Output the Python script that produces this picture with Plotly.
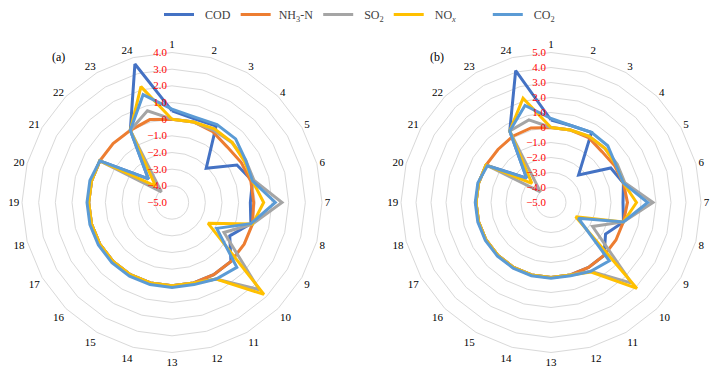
import plotly.graph_objects as go

categories = ["1", "2", "3", "4", "5", "6", "7", "8", "9", "10", "11", "12",
              "13", "14", "15", "16", "17", "18", "19", "20", "21", "22", "23", "24"]

NB = "\u00a0"
series_names = [NB * 2 + "COD", NB + "NH<sub>3</sub>-N", NB * 2 + "SO<sub>2</sub>",
                NB * 2 + "NO<sub><i>x</i></sub>" + NB * 9, NB * 2 + "CO<sub>2</sub>"]
series_colors = ["#4472C4", "#ED7D31", "#A5A5A5", "#FFC000", "#5B9BD5"]

# Panel (a)
cod_a = [0.5, 0.2, 0.3, -2.1, -0.5, 0.0, -0.3, -0.1, -1.0, 0.0, 0.0, 0.0,
         0.0, 0.0, 0.0, 0.0, 0.0, 0.0, 0.0, 0.0, 0.0, -3.0, 0.0, 3.6]
nh3_a = [0.0, 0.0, -0.1, -0.3, -0.2, -0.1, -0.1, 0.0, 0.0, 0.0, 0.0, 0.0,
         0.0, 0.0, 0.0, 0.0, 0.0, 0.0, 0.0, 0.0, 0.0, 0.0, 0.0, 0.15]
so2_a = [0.0, 0.0, 0.0, 0.1, 0.1, 0.1, 1.6, 0.0, -1.4, 2.4, 0.3, 0.0,
         0.0, 0.0, 0.0, 0.0, 0.0, 0.0, 0.0, 0.0, 0.0, -4.1, 0.0, 0.7]
nox_a = [0.0, 0.0, 0.1, 0.1, 0.0, 0.0, 0.5, 0.0, -2.5, 2.8, 0.3, 0.0,
         0.0, 0.0, 0.0, 0.0, 0.0, 0.0, 0.0, 0.0, 0.0, -3.6, 0.0, 2.2]
co2_a = [0.6, 0.3, 0.4, 0.4, 0.1, 0.0, 1.2, -0.1, -1.9, 0.5, 0.3, 0.1,
         0.1, 0.1, 0.1, 0.1, 0.1, 0.1, 0.1, 0.1, 0.0, -3.0, 0.0, 1.7]

# Panel (b)
cod_b = [0.5, 0.3, 0.4, -2.4, -0.4, 0.0, -0.2, 0.0, -0.8, 0.0, 0.0, 0.0,
         0.0, 0.0, 0.0, 0.0, 0.0, 0.0, 0.0, 0.0, 0.0, -2.7, 0.5, 4.1]
nh3_b = [0.0, 0.0, 0.0, -0.2, -0.1, 0.0, 0.1, 0.0, 0.0, 0.0, 0.0, 0.0,
         0.0, 0.0, 0.0, 0.0, 0.0, 0.0, 0.0, 0.0, 0.0, 0.0, 0.1, 0.15]
so2_b = [0.0, 0.0, 0.1, 0.1, 0.1, 0.1, 1.8, 0.0, -1.8, 2.6, 0.3, 0.0,
         0.0, 0.0, 0.0, 0.0, 0.0, 0.0, 0.0, 0.0, 0.0, -4.0, 0.5, 0.7]
nox_b = [0.0, 0.0, 0.1, 0.1, 0.0, 0.0, 0.7, 0.0, -3.1, 3.1, 0.35, 0.0,
         0.0, 0.0, 0.0, 0.0, 0.0, 0.0, 0.0, 0.0, 0.0, -3.2, 0.5, 2.2]
co2_b = [0.6, 0.3, 0.4, 0.35, 0.0, 0.0, 1.45, 0.0, -2.9, 0.5, 0.3, 0.05,
         0.05, 0.05, 0.05, 0.05, 0.05, 0.05, 0.05, 0.05, -0.1, -2.7, 0.5, 1.7]

ticks_a = [-5, -4, -3, -2, -1, 0, 1, 2, 3, 4]
ticklabels_a = ["\u22125.0", "\u22124.0", "\u22123.0", "\u22122.0", "\u22121.0", "0", "1.0", "2.0", "3.0", "4.0"]
ticks_b = [-5, -4, -3, -2, -1, 0, 1, 2, 3, 4, 5]
ticklabels_b = ["\u22125.0", "\u22124.0", "\u22123.0", "\u22122.0", "\u22121.0", "0", "1.0", "2.0", "3.0", "4.0", "5.0"]

panel_a = [cod_a, nh3_a, so2_a, nox_a, co2_a]
panel_b = [cod_b, nh3_b, so2_b, nox_b, co2_b]

SERIF = "Liberation Serif, Times New Roman, serif"
GRID = "#d9d9d9"

fig = go.Figure()
for sub, data, show in (("polar", panel_a, True), ("polar2", panel_b, False)):
    for name, color, vals in zip(series_names, series_colors, data):
        fig.add_trace(go.Scatterpolar(
            r=vals + [vals[0]],
            theta=categories + [categories[0]],
            mode="lines",
            line=dict(color=color, width=3),
            name=name,
            subplot=sub,
            showlegend=show,
        ))


def polar_cfg(domain_x, domain_y, rng, tv, tt):
    return dict(
        domain=dict(x=domain_x, y=domain_y),
        bgcolor="white",
        gridshape="linear",
        angularaxis=dict(
            type="category", categoryarray=categories, rotation=90, direction="clockwise",
            showgrid=False, showline=True, linecolor=GRID, linewidth=1, ticks="",
            tickfont=dict(family=SERIF, size=11, color="black"),
        ),
        radialaxis=dict(
            range=rng, tickvals=tv, ticktext=[t + NB for t in tt], angle=90, side="counterclockwise",
            showline=False, showgrid=True, gridcolor=GRID, gridwidth=1, ticks="",
            tickangle=90,
            tickfont=dict(family=SERIF, size=11, color="red"),
        ),
    )


cx_a, cx_b, cy, R = 172, 551, 202.5, 150
W, H = 720, 372
fig.update_layout(
    width=W, height=H,
    margin=dict(l=0, r=0, t=0, b=0, autoexpand=False),
    paper_bgcolor="white",
    font=dict(family=SERIF, color="#404040"),
    polar=polar_cfg([(cx_a - R) / W, (cx_a + R) / W], [(H - cy - R) / H, (H - cy + R) / H],
                    [-5, 4], ticks_a, ticklabels_a),
    polar2=polar_cfg([(cx_b - R) / W, (cx_b + R) / W], [(H - cy - R) / H, (H - cy + R) / H],
                     [-5, 5], ticks_b, ticklabels_b),
    legend=dict(orientation="h", x=159 / W, xanchor="left", y=1.0, yanchor="top",
                font=dict(family=SERIF, size=12, color="#404040"),
                bgcolor="rgba(0,0,0,0)"),
    annotations=[
        dict(text="(a)", x=58 / W, y=(H - 57) / H, xref="paper", yref="paper", showarrow=False,
             xanchor="center", yanchor="middle",
             font=dict(family=SERIF, size=12, color="black")),
        dict(text="(b)", x=437 / W, y=(H - 57) / H, xref="paper", yref="paper", showarrow=False,
             xanchor="center", yanchor="middle",
             font=dict(family=SERIF, size=12, color="black")),
    ],
)

fig.write_html("out.html", config={"displayModeBar": False},
               post_script="document.body.style.margin='0';")
